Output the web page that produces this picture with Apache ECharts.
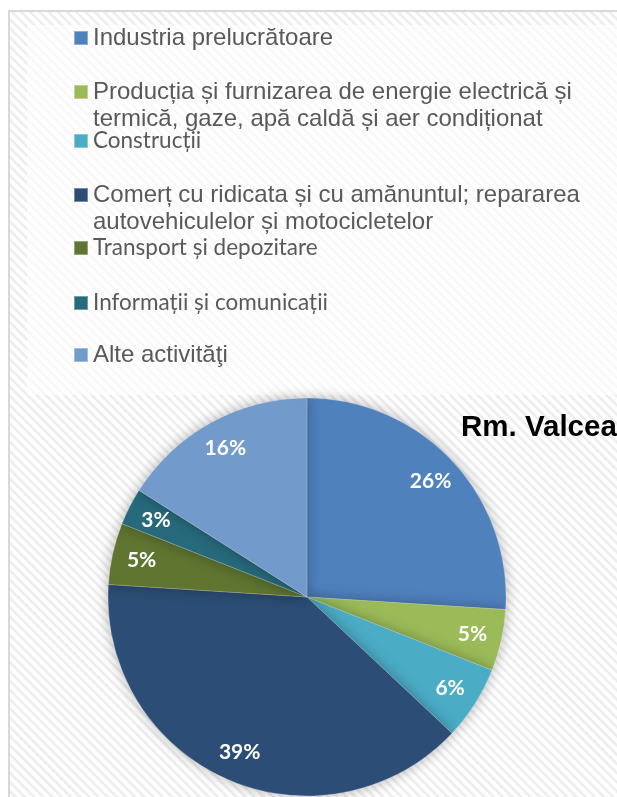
<!DOCTYPE html>
<html>
<head>
<meta charset="utf-8">
<script src="https://cdn.jsdelivr.net/npm/echarts@6/dist/echarts.min.js"></script>
<style>
  html, body { margin: 0; padding: 0; background: #ffffff; }
  #wrap { position: relative; width: 617px; height: 797px; overflow: hidden; background: #ffffff; }
  /* striped chart frame */
  #frame {
    position: absolute; left: 8px; top: 10px; width: 700px; height: 900px;
    border: 2px solid #d9d9d9; box-sizing: border-box;
    background: repeating-linear-gradient(45deg, #ffffff 0px, #ffffff 2.5px, #ececec 4px, #ececec 5px, #ffffff 6.5px);
  }
  /* lighter panel behind the legend */
  #legendPanel {
    position: absolute; left: 27px; top: 25px; width: 600px; height: 370px;
    background: rgba(255,255,255,0.6);
  }
  #chart { position: absolute; left: 0; top: 0; width: 617px; height: 797px; }
</style>
</head>
<body>
<div id="wrap">
  <div id="frame"></div>
  <div id="legendPanel"></div>
  <div id="chart"></div>
</div>
<script>
// Economic activity shares, Rm. Valcea (percent)
const categories = [
  'Industria prelucrătoare',
  'Producția și furnizarea de energie electrică și\ntermică, gaze, apă caldă și aer condiționat',
  'Construcții',
  'Comerț cu ridicata și cu amănuntul; repararea\nautovehiculelor și motocicletelor',
  'Transport și depozitare',
  'Informații și comunicații',
  'Alte activităţi'
];
const shares = [26, 5, 6, 39, 5, 3, 16];
const sliceColors = ['#4f81bd', '#9bbb59', '#4bacc6', '#2c4d75', '#5f7530', '#276a7c', '#729aca'];

// legend row layout: vertical centre of each row's first line, and which rows use the humanist face
const legendRowY = [38, 92, 141, 195, 248, 303, 355];
const humanistRows = [2, 4, 5];
const LINE_H = 27;

const chart = echarts.init(document.getElementById('chart'), null, { renderer: 'canvas' });

const pieData = categories.map((name, i) => ({
  name: name,
  value: shares[i],
  itemStyle: { color: sliceColors[i] }
}));

const legends = categories.map((name, i) => {
  const multi = name.indexOf('\n') >= 0;
  const humanist = humanistRows.indexOf(i) >= 0;
  return {
    data: [name],
    left: 73,
    top: legendRowY[i] - (multi ? 1.5 : 0.5) * LINE_H,
    padding: 0,
    orient: 'vertical',
    icon: 'rect',
    itemWidth: 14,
    itemHeight: 14,
    selectedMode: false,
    formatter: n => (n.indexOf('\n') >= 0 ? ' \n' + n : n),
    textStyle: {
      fontFamily: humanist ? 'Lato' : '"Liberation Sans", Arial',
      fontSize: humanist ? 22.5 : 24,
      lineHeight: LINE_H,
      color: '#595959'
    }
  };
});

chart.setOption({
  animation: false,
  title: {
    text: 'Rm. Valcea',
    left: 461,
    top: 413,
    padding: 0,
    textStyle: { fontFamily: '"Liberation Sans", Arial', fontWeight: 'bold', fontSize: 29.5, color: '#000000' }
  },
  legend: legends,
  series: [
    {
      type: 'pie',
      center: [307, 597],
      radius: 199,
      startAngle: 90,
      clockwise: true,
      silent: true,
      data: pieData,
      label: { show: false },
      labelLine: { show: false },
      itemStyle: {
        borderColor: 'rgba(255,255,255,0.35)',
        borderWidth: 0.6,
        shadowBlur: 14,
        shadowColor: 'rgba(0,0,0,0.3)'
      },
      emphasis: { disabled: true }
    },
    {
      // percentage labels placed near the outer rim
      type: 'pie',
      center: [307, 597],
      radius: [134, 199],
      startAngle: 90,
      clockwise: true,
      silent: true,
      data: pieData.map(d => ({ name: d.name, value: d.value })),
      itemStyle: { color: 'rgba(0,0,0,0)' },
      label: {
        show: true,
        position: 'inside',
        formatter: '{c}%',
        fontFamily: 'Lato',
        fontWeight: 'bold',
        fontSize: 21,
        color: '#ffffff'
      },
      labelLine: { show: false },
      emphasis: { disabled: true }
    }
  ]
});
</script>
</body>
</html>
